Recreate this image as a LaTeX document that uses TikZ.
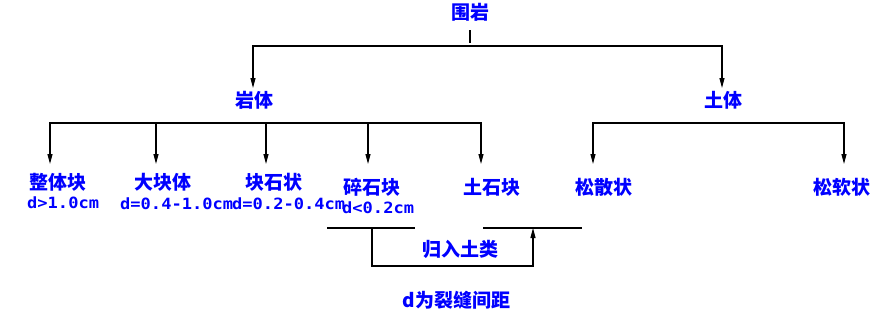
\documentclass[tikz,border=0pt]{standalone}
\usepackage{fontspec}
\newfontfamily\cjk{Noto Sans CJK SC}
\newfontfamily\lat{DejaVu Sans Mono}[FakeStretch=1.1]
\usetikzlibrary{arrows.meta}
\begin{document}
\begin{tikzpicture}[x=1pt,y=-1pt,
  lbl/.style={inner sep=0pt, text=blue, font=\cjk\bfseries\fontsize{19}{19}\selectfont},
  dl/.style={inner sep=0pt, anchor=west, text=blue, font=\lat\bfseries\fontsize{15.5}{15.5}\selectfont},
  ln/.style={line width=1.1pt, draw=black},
  arr/.style={ln, -{Triangle[length=10pt,width=5pt]}}]
\useasboundingbox (0,0) rectangle (871,311);

% top level
\node[lbl] (wy) at (470,12) {围岩};
\node[lbl] (yt) at (254,100) {岩体};
\node[lbl] (tt) at (723,100) {土体};
\coordinate (wys) at (470,30);
\coordinate (wye) at (470,43);
\coordinate (bar1) at (470,46);
\coordinate (ytin) at (253,88);
\coordinate (ttin) at (722,88);
\draw[ln] (wys) -- (wye);
\draw[arr] (bar1) -| (ytin);
\draw[arr] (bar1) -| (ttin);

% rock children
\node[lbl] (r1) at (58.5,182) {整体块};
\node[lbl] (r2) at (163,182) {大块体};
\node[lbl] (r3) at (273.5,182) {块石状};
\node[lbl] (r4) at (371.5,187) {碎石块};
\node[lbl] (r5) at (492,187) {土石块};
\node[dl] (d1) at (27,202.5) {d>1.0cm};
\node[dl] (d2) at (120,203.5) {d=0.4-1.0cm};
\node[dl] (d3) at (232,203.5) {d=0.2-0.4cm};
\node[dl] (d4) at (342,208) {d<0.2cm};
\coordinate (rbar) at (266,123);
\coordinate (r1in) at (50,164);
\coordinate (r2in) at (156,164);
\coordinate (r3in) at (266,164);
\coordinate (r4in) at (368,164);
\coordinate (r5in) at (481,164);
\draw[arr] (rbar) -| (r1in);
\draw[arr] (rbar) -| (r2in);
\draw[arr] (rbar) -- (r3in);
\draw[arr] (rbar) -| (r4in);
\draw[arr] (rbar) -| (r5in);

% soil children
\node[lbl] (s1) at (604,187) {松散状};
\node[lbl] (s2) at (842,187) {松软状};
\coordinate (sbar) at (720,123);
\coordinate (s1in) at (593,164);
\coordinate (s2in) at (844,164);
\draw[arr] (sbar) -| (s1in);
\draw[arr] (sbar) -| (s2in);

% bracket
\coordinate (la) at (327,228);
\coordinate (lb) at (415,228);
\coordinate (lc) at (483,228);
\coordinate (ld) at (582,228);
\coordinate (ba) at (372,228);
\coordinate (bb) at (533,266);
\coordinate (bt) at (533,228);
\draw[ln] (la) -- (lb);
\draw[ln] (lc) -- (ld);
\draw[arr] (ba) |- (bb) -- (bt);
\node[lbl] (gr) at (460,249) {归入土类};
\node[lbl] (nt) at (456.5,300) {d为裂缝间距};
\end{tikzpicture}
\end{document}
